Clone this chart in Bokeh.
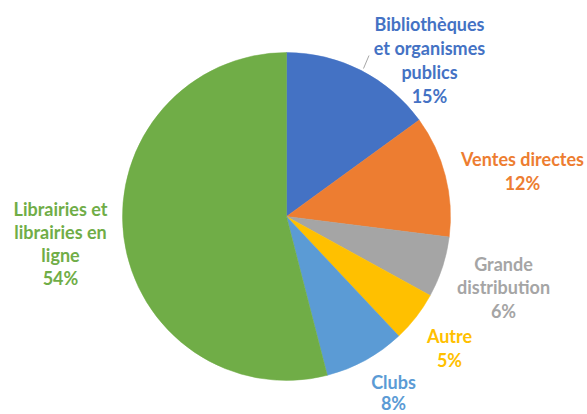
import numpy as np
from bokeh.plotting import figure
from bokeh.models import Range1d
from bokeh.core.properties import value
from bokeh.embed import file_html
from bokeh.resources import INLINE

# ---- data ----
categories = ["Bibliothèques\net organismes\npublics", "Ventes directes",
              "Grande\ndistribution", "Autre", "Clubs",
              "Librairies et\nlibrairies en\nligne"]
shares = [15, 12, 6, 5, 8, 54]
colors = ["#4472C4", "#ED7D31", "#A5A5A5", "#FFC000", "#5B9BD5", "#70AD47"]

# ---- layout (screen-pixel coordinates of label centres, top line) ----
label_x = [429, 522, 503, 449, 393, 60]
label_top = [23, 158, 263, 335, 381, 208]
line_gap = [24, 24, 23.5, 24.5, 21, 23]

W, H = 587, 414
def sy(y):  # screen y -> data y
    return H - y

p = figure(width=W, height=H, output_backend="svg", toolbar_location=None,
           x_range=Range1d(0, W), y_range=Range1d(0, H),
           min_border=0)
p.axis.visible = False
p.grid.visible = False
p.outline_line_color = None
p.background_fill_color = "white"

cx, cy, r = 286, sy(216), 164
total = sum(shares)
cum = np.concatenate([[0], np.cumsum(shares)]) / total
starts = [np.pi / 2 - 2 * np.pi * cum[i] for i in range(len(shares))]
ends = [np.pi / 2 - 2 * np.pi * cum[i + 1] for i in range(len(shares))]
p.wedge(x=[cx] * len(shares), y=[cy] * len(shares), radius=r,
        start_angle=starts, end_angle=ends, direction="clock",
        fill_color=colors, line_color=colors, line_width=0.5)

# leader line for first label
p.segment(x0=[363], y0=[sy(68)], x1=[368.5], y1=[sy(55)],
          line_color="#A6A6A6", line_width=1)

xs, ys, txts, cols = [], [], [], []
for i, cat in enumerate(categories):
    lines = cat.split("\n") + [f"{shares[i]}%"]
    for j, ln in enumerate(lines):
        xs.append(label_x[i])
        ys.append(sy(label_top[i] + j * line_gap[i]))
        txts.append(ln)
        cols.append(colors[i])

p.text(x=xs, y=ys, text=txts, text_color=cols, text_align="center",
       text_baseline="middle", text_font=value("Lato"),
       text_font_style="bold", text_font_size="18px")

open("out.html", "w").write(file_html(p, INLINE))
